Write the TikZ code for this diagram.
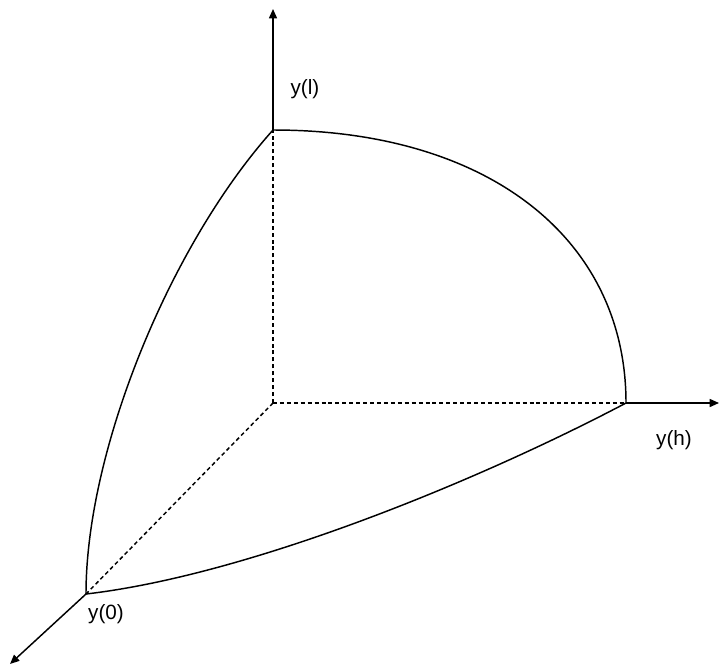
\documentclass[tikz,border=0pt]{standalone}
\usepackage{fontspec}
\setmainfont{Liberation Sans}
\usetikzlibrary{arrows.meta}
\begin{document}
\begin{tikzpicture}[x=0.75pt,y=-0.75pt,
  axis/.style={line width=1.1pt,-{Triangle[length=7pt,width=6pt]}},
  curve/.style={line width=1.1pt},
  hidden/.style={line width=1.1pt,dash pattern=on 3pt off 2.2pt},
  lbl/.style={font=\fontsize{15.5pt}{18pt}\selectfont,inner sep=0pt}]
\useasboundingbox (0,0) rectangle (720,668);
\coordinate (O) at (273,403);
\coordinate (A) at (273,130);
\coordinate (B) at (626,403);
\coordinate (C) at (86,594);
\coordinate (At) at (273,9);
\coordinate (Bt) at (719,403);
\coordinate (Ct) at (10,664);
\draw[hidden] (O) -- (A);
\draw[hidden] (O) -- (B);
\draw[hidden] (O) -- (C);
\draw[axis] (A) -- (At);
\draw[axis] (B) -- (Bt);
\draw[axis] (C) -- (Ct);
\draw[curve] (A) .. controls (490,130) and (626,240) .. (B);
\draw[curve] (A) .. controls (170,245) and (86,450) .. (C);
\draw[curve] (C) .. controls (250,575) and (480,480) .. (B);
\node[lbl] (lA) at (305,89) {y(l)};
\node[lbl] (lB) at (674,440) {y(h)};
\node[lbl] (lC) at (106,614) {y(0)};
\end{tikzpicture}
\end{document}
